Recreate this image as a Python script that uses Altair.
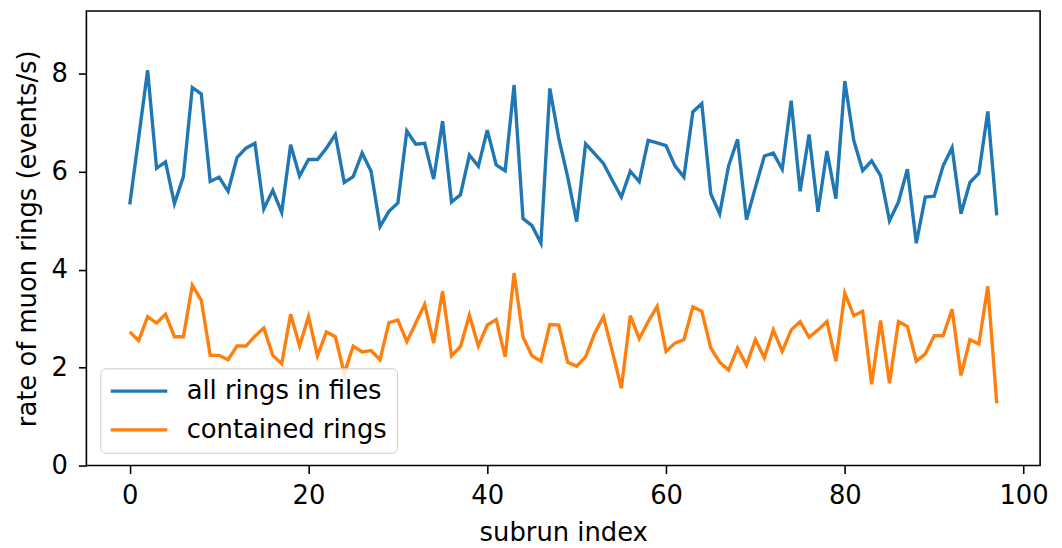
import altair as alt
import pandas as pd

all_rings = [5.33, 6.7, 8.07, 6.07, 6.2, 5.35, 5.9, 7.72, 7.59, 5.8,
             5.89, 5.6, 6.29, 6.48, 6.58, 5.24, 5.62, 5.17, 6.55, 5.91,
             6.25, 6.25, 6.48, 6.76, 5.78, 5.9, 6.38, 6.01, 4.88, 5.19,
             5.36, 6.83, 6.56, 6.58, 5.85, 7.03, 5.38, 5.53, 6.34, 6.11,
             6.85, 6.14, 6.02, 7.77, 5.04, 4.9, 4.54, 7.7, 6.68, 5.89,
             4.98, 6.57, 6.37, 6.17, 5.82, 5.48, 6.01, 5.8, 6.64, 6.59,
             6.53, 6.12, 5.89, 7.22, 7.39, 5.55, 5.14, 6.12, 6.66, 5.02,
             5.68, 6.32, 6.38, 6.05, 7.45, 5.6, 6.76, 5.18, 6.42, 5.45,
             7.85, 6.64, 6.02, 6.22, 5.92, 5.0, 5.38, 6.05, 4.54, 5.48,
             5.5, 6.12, 6.49, 5.14, 5.78, 5.97, 7.23, 5.11]

contained = [2.73, 2.55, 3.04, 2.91, 3.09, 2.63, 2.63, 3.68, 3.38, 2.25,
             2.25, 2.16, 2.44, 2.44, 2.64, 2.81, 2.25, 2.08, 3.09, 2.44,
             3.04, 2.24, 2.73, 2.63, 1.88, 2.44, 2.32, 2.35, 2.16, 2.92,
             2.97, 2.53, 2.91, 3.29, 2.5, 3.56, 2.24, 2.43, 3.07, 2.44,
             2.87, 2.98, 2.22, 3.93, 2.62, 2.24, 2.13, 2.88, 2.87, 2.11,
             2.03, 2.22, 2.69, 3.04, 2.32, 1.58, 3.06, 2.59, 2.94, 3.25,
             2.33, 2.5, 2.57, 3.24, 3.15, 2.4, 2.11, 1.95, 2.4, 2.05,
             2.57, 2.2, 2.77, 2.33, 2.77, 2.94, 2.62, 2.77, 2.94, 2.13,
             3.52, 3.06, 3.15, 1.66, 2.96, 1.68, 2.94, 2.84, 2.13, 2.28,
             2.65, 2.65, 3.19, 1.84, 2.57, 2.48, 3.66, 1.27]

series_names = ["all rings in files", "contained rings"]
series_colors = ["#1f77b4", "#ff7f0e"]

rows = []
for k, (name, vals) in enumerate(zip(series_names, [all_rings, contained])):
    for i, v in enumerate(vals):
        rows.append({"subrun": i, "rate": v, "series": name, "order": k})
df = pd.DataFrame(rows)

FONT = "DejaVu Sans"
FS = 26

def ax(values, pad):
    return alt.Axis(values=values, grid=False, domain=False,
                    tickColor="black", tickSize=8, tickWidth=1.6,
                    labelFontSize=FS, labelColor="black", labelPadding=pad,
                    titleFontSize=FS, titleColor="black", titleFontWeight="normal",
                    labelFont=FONT, titleFont=FONT)

xaxis = ax([0, 20, 40, 60, 80, 100], 9)
xaxis.titlePadding = 12
yaxis = ax([0, 2, 4, 6, 8], 11)
yaxis.titlePadding = 11

chart = alt.Chart(df).mark_line(strokeWidth=3.4, clip=True).encode(
    x=alt.X("subrun:Q", title="subrun index",
            scale=alt.Scale(domain=[-4.85, 101.85], nice=False, zero=False),
            axis=xaxis),
    y=alt.Y("rate:Q", title="rate of muon rings (events/s)",
            scale=alt.Scale(domain=[0, 9.28], nice=False),
            axis=yaxis),
    color=alt.Color("series:N", title=None,
                    scale=alt.Scale(domain=series_names, range=series_colors),
                    legend=alt.Legend(orient="none", legendX=14, legendY=360,
                                      symbolType="M-5,0L5,0", symbolSize=130,
                                      symbolStrokeWidth=3.4, labelFontSize=FS,
                                      labelFont=FONT, labelColor="black",
                                      fillColor="rgba(255,255,255,0.8)",
                                      strokeColor="#cccccc",
                                      cornerRadius=5, symbolOffset=16,
                                      padding=10, rowPadding=13, labelOffset=35,
                                      labelLimit=400)),
    order="order:Q",
    detail="series:N",
).properties(
    width=961, height=458,
    autosize=alt.AutoSizeParams(type="none"),
    padding={"left": 79, "top": 1, "right": 14, "bottom": 80},
).configure(
    background="white"
).configure_view(
    stroke="black", strokeWidth=1.6
)

chart.save("out.html", embed_options={"renderer": "svg", "actions": False})
